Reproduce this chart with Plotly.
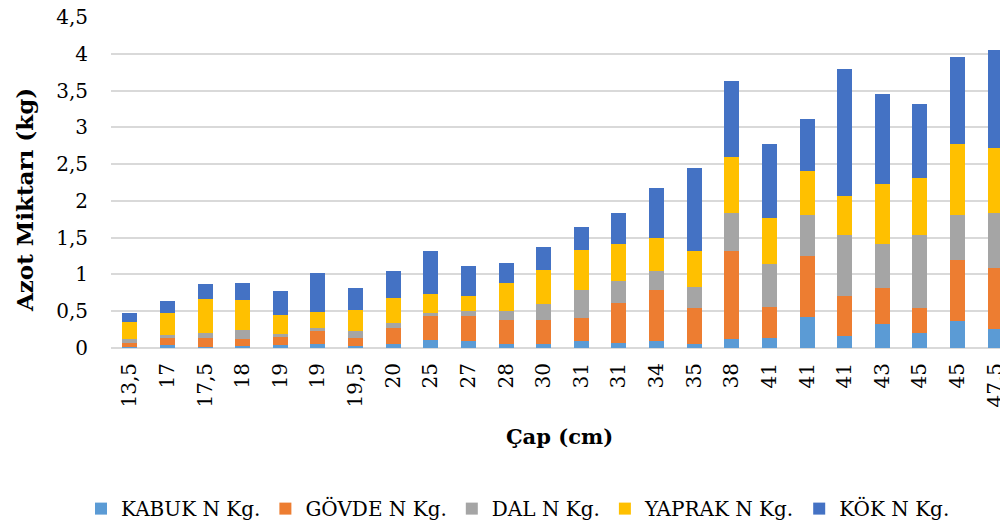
import plotly.graph_objects as go

cap_labels = ["13,5", "17", "17,5", "18", "19", "19", "19,5", "20", "25", "27", "28", "30",
              "31", "31", "34", "35", "38", "41", "41", "41", "43", "45", "45", "47,5"]

kabuk = [0.01, 0.04, 0.01, 0.03, 0.04, 0.05, 0.03, 0.06, 0.11, 0.09, 0.055, 0.05,
         0.09, 0.064, 0.10, 0.05, 0.12, 0.13, 0.42, 0.16, 0.33, 0.20, 0.37, 0.26]
govde = [0.06, 0.09, 0.12, 0.09, 0.115, 0.18, 0.11, 0.21, 0.32, 0.35, 0.325, 0.33,
         0.32, 0.546, 0.69, 0.49, 1.20, 0.43, 0.83, 0.55, 0.49, 0.35, 0.82, 0.83]
dal = [0.05, 0.05, 0.08, 0.13, 0.04, 0.04, 0.09, 0.07, 0.05, 0.06, 0.12, 0.22,
       0.38, 0.30, 0.26, 0.29, 0.52, 0.58, 0.56, 0.83, 0.59, 0.99, 0.62, 0.74]
yaprak = [0.24, 0.29, 0.46, 0.40, 0.255, 0.22, 0.28, 0.34, 0.25, 0.21, 0.38, 0.46,
          0.54, 0.50, 0.44, 0.49, 0.76, 0.63, 0.59, 0.52, 0.82, 0.77, 0.97, 0.89]
kok = [0.12, 0.17, 0.20, 0.24, 0.33, 0.53, 0.30, 0.37, 0.59, 0.40, 0.28, 0.32,
       0.32, 0.42, 0.69, 1.13, 1.03, 1.00, 0.72, 1.74, 1.23, 1.01, 1.18, 1.33]

series_names = ["KABUK N Kg.", "GÖVDE N Kg.", "DAL N Kg.", "YAPRAK N Kg.", "KÖK N Kg."]
series_values = [kabuk, govde, dal, yaprak, kok]
series_colors = ["#5B9BD5", "#ED7D31", "#A5A5A5", "#FFC000", "#4472C4"]

y_ticks = [0, 0.5, 1, 1.5, 2, 2.5, 3, 3.5, 4, 4.5]

x_title = "Çap (cm)"
y_title = "Azot Miktarı (kg)"

x_idx = list(range(len(cap_labels)))

FONT = "DejaVu Serif"

fig = go.Figure()
for name, vals, col in zip(series_names, series_values, series_colors):
    fig.add_trace(go.Bar(x=x_idx, y=vals, name=name, marker=dict(color=col, line=dict(width=0))))

# figure sits 8px inside the page (body margin), so everything is offset by -8
fig.update_layout(
    template="none",
    barmode="stack",
    bargap=0.6,
    width=1000,
    height=514,
    margin=dict(l=103, r=0, t=9, b=174, autoexpand=False),
    paper_bgcolor="white",
    plot_bgcolor="white",
    separators=",.",
    font=dict(family=FONT, color="#000000", size=20),
    showlegend=True,
    legend=dict(
        orientation="h",
        traceorder="normal",
        xref="container", yref="container",
        x=0.51, xanchor="center",
        y=0.064, yanchor="top",
        font=dict(family=FONT, size=20, color="#000000"),
        itemwidth=30,
        tracegroupgap=0,
    ),
    xaxis=dict(
        tickmode="array",
        tickvals=x_idx,
        ticktext=cap_labels,
        tickangle=-90,
        range=[-0.5, 23.34],
        showgrid=False,
        showline=False,
        zeroline=False,
        ticks="",
        automargin=False,
        ticklabelstandoff=10,
        tickfont=dict(family=FONT, size=20),
        title=dict(text="<b>" + x_title + "</b>", font=dict(family=FONT, size=21), standoff=22),
    ),
    yaxis=dict(
        range=[0, 4.5001],
        tickmode="array",
        tickvals=y_ticks,
        showgrid=True,
        gridcolor="#D9D9D9",
        gridwidth=1.5,
        zeroline=True,
        zerolinecolor="#D9D9D9",
        zerolinewidth=1.5,
        showline=False,
        ticks="",
        automargin=False,
        ticklabeloverflow="allow",
        ticklabelstandoff=22,
        tickfont=dict(family=FONT, size=20),
    ),
    annotations=[
        dict(
            text="<b>" + y_title + "</b>",
            textangle=-90,
            xref="paper", yref="paper",
            x=-0.097, y=0.447,
            xanchor="center", yanchor="middle",
            showarrow=False,
            font=dict(family=FONT, size=23, color="#000000"),
        )
    ],
)

fig.write_html("out.html")
